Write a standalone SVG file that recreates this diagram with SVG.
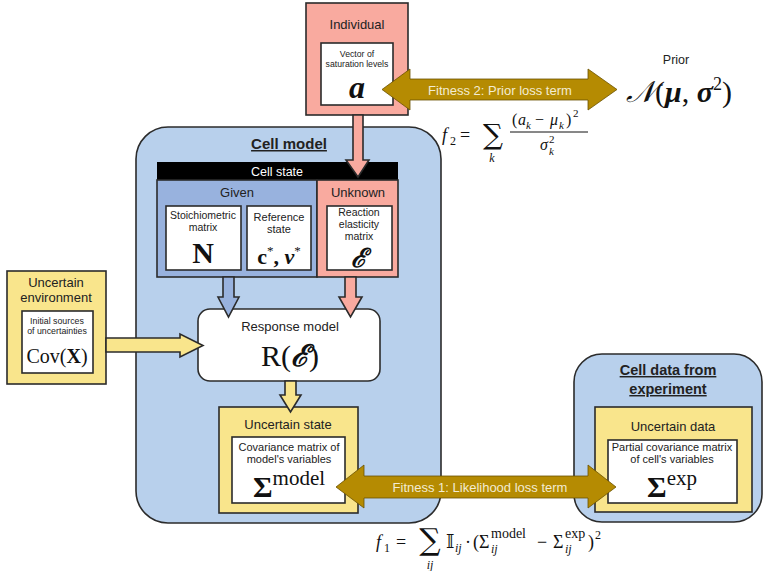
<svg xmlns="http://www.w3.org/2000/svg" width="763" height="571" viewBox="0 0 763 571">
  <defs>
    <style>
      .box { stroke: #2b2b2b; stroke-width: 1.6; }
      .salmon { fill: #f9aa9f; }
      .blue { fill: #b8d0ec; }
      .given { fill: #98b2de; }
      .yellow { fill: #f9e58c; }
      .white { fill: #ffffff; }
      .gold { fill: #b58b02; stroke: #6b5200; stroke-width: 0.8; }
      .t { font-family: "Liberation Sans", Arial, sans-serif; fill: #222; text-anchor: middle; }
      .m { font-family: "Liberation Serif", "DejaVu Serif", serif; fill: #111; text-anchor: middle; }
      .f { font-family: "Liberation Serif", "DejaVu Serif", serif; fill: #111; text-anchor: start; }
      .sum { font-family: "DejaVu Serif", serif; fill: #111; text-anchor: middle; }
      .i { font-style: italic; }
      .h { font-weight: bold; text-decoration: underline; }
      .lbl { font-family: "Liberation Sans", Arial, sans-serif; fill: #f3ecd2; font-size: 13px; text-anchor: middle; }
    </style>
  </defs>

  <!-- Cell model container -->
  <g id="cell-model">
    <rect class="box blue" x="136" y="127" width="305" height="396" rx="32" stroke-width="2.2"/>
    <text class="t h" x="289" y="149" font-size="15">Cell model</text>
  </g>

  <!-- Cell state block -->
  <g id="cell-state">
    <rect x="157" y="162" width="241" height="18" fill="#000"/>
    <text x="277" y="176" font-size="12.5" class="t" style="fill:#fff">Cell state</text>
    <rect class="box given" x="157" y="180" width="160" height="97" stroke-width="1.2"/>
    <rect class="box salmon" x="317" y="180" width="81" height="97" stroke-width="1.2"/>
    <text class="t" x="237" y="197" font-size="13">Given</text>
    <text class="t" x="358" y="197" font-size="13">Unknown</text>
  </g>

  <g id="stoichiometric">
    <rect class="box white" x="166" y="206" width="75" height="64" stroke-width="1.2"/>
    <text class="t" x="203" y="219" font-size="10.5">Stoichiometric</text>
    <text class="t" x="203" y="231" font-size="10.5">matrix</text>
    <text class="m" x="203" y="263" font-size="30" font-weight="bold">N</text>
  </g>

  <g id="reference-state">
    <rect class="box white" x="247" y="206" width="64" height="64" stroke-width="1.2"/>
    <text class="t" x="279" y="221" font-size="11">Reference</text>
    <text class="t" x="279" y="233" font-size="11">state</text>
    <text class="m" x="279" y="264" font-size="22" font-weight="bold">c<tspan font-size="13" dy="-9" font-weight="normal">*</tspan><tspan dy="9">, </tspan><tspan font-style="italic">v</tspan><tspan font-size="13" dy="-9" font-weight="normal">*</tspan></text>
  </g>

  <g id="elasticity">
    <rect class="box white" x="327" y="206" width="65" height="64" stroke-width="1.2"/>
    <text class="t" x="359" y="216" font-size="10.5">Reaction</text>
    <text class="t" x="359" y="228" font-size="10.5">elasticity</text>
    <text class="t" x="359" y="240" font-size="10.5">matrix</text>
    <text class="m" x="359" y="267" font-size="26" font-style="italic" font-weight="bold">ℰ</text>
  </g>

  <!-- Individual -->
  <g id="individual">
    <rect class="box salmon" x="306" y="3" width="102" height="112" stroke-width="1.4"/>
    <text class="t" x="357" y="29" font-size="13">Individual</text>
    <rect class="box white" x="321" y="43" width="72" height="62" stroke-width="1.2"/>
    <text class="t" x="357" y="57" font-size="8.7">Vector of</text>
    <text class="t" x="357" y="67" font-size="8.7">saturation levels</text>
    <text class="m" x="357" y="98" font-size="32" font-weight="bold" font-style="italic">a</text>
  </g>

  <!-- Prior -->
  <g id="prior">
    <text class="t" x="676" y="64" font-size="12.5">Prior</text>
    <text class="m" x="679" y="102" font-size="30"><tspan font-style="italic">𝒩</tspan>(<tspan font-weight="bold" font-style="italic">μ</tspan>, <tspan font-weight="bold" font-style="italic">σ</tspan><tspan font-size="18" dy="-12">2</tspan><tspan dy="12">)</tspan></text>
  </g>

  <!-- Prior loss formula -->
  <g id="f2">
    <text class="f i" x="442" y="141" font-size="18">f</text>
    <text class="f" x="450" y="145" font-size="12">2</text>
    <text class="f" x="460" y="141" font-size="18">=</text>
    <text class="sum" x="493" y="144" font-size="28">∑</text>
    <text class="m i" x="492" y="162" font-size="12">k</text>
    <text class="f" x="512" y="125" font-size="16">(</text>
    <text class="f i" x="518" y="125" font-size="16">a</text>
    <text class="f i" x="526" y="129" font-size="11">k</text>
    <text class="f" x="535" y="125" font-size="16">−</text>
    <text class="f i" x="550" y="125" font-size="16">μ</text>
    <text class="f i" x="559" y="129" font-size="11">k</text>
    <text class="f" x="566" y="125" font-size="16">)</text>
    <text class="f" x="573" y="117" font-size="11">2</text>
    <line x1="510" y1="132" x2="588" y2="132" stroke="#111" stroke-width="1"/>
    <text class="f i" x="540" y="150" font-size="16">σ</text>
    <text class="f" x="549" y="143" font-size="11">2</text>
    <text class="f i" x="549" y="155" font-size="11">k</text>
  </g>

  <!-- Uncertain environment -->
  <g id="environment">
    <rect class="box yellow" x="7" y="271" width="99" height="113" stroke-width="1.4"/>
    <text class="t" x="56" y="287" font-size="13">Uncertain</text>
    <text class="t" x="56" y="302" font-size="13">environment</text>
    <rect class="box white" x="22" y="311" width="71" height="62" stroke-width="1.2"/>
    <text class="t" x="57" y="324" font-size="8.8">Initial sources</text>
    <text class="t" x="57" y="334" font-size="8.8">of uncertainties</text>
    <text class="m" x="57" y="363" font-size="20">Cov(<tspan font-weight="bold">X</tspan>)</text>
  </g>

  <!-- Response model -->
  <g id="response-model">
    <rect class="box white" x="198" y="309" width="182" height="72" rx="12" stroke-width="1.3"/>
    <text class="t" x="290" y="331" font-size="13">Response model</text>
    <text class="m" x="290" y="366" font-size="30">R(<tspan font-style="italic" font-weight="bold">ℰ</tspan>)</text>
  </g>

  <!-- Uncertain state -->
  <g id="uncertain-state">
    <rect class="box yellow" x="219" y="407" width="139" height="106" stroke-width="1.4"/>
    <text class="t" x="288" y="429" font-size="13">Uncertain state</text>
    <rect class="box white" x="232" y="437" width="113" height="66" stroke-width="1.2"/>
    <text class="t" x="289" y="451" font-size="11">Covariance matrix of</text>
    <text class="t" x="289" y="463" font-size="11">model's variables</text>
    <text class="m" x="289" y="497" font-size="30" font-weight="bold">Σ<tspan font-size="21" font-weight="normal" dy="-12">model</tspan></text>
  </g>

  <!-- Cell data from experiment -->
  <g id="cell-data">
    <rect class="box blue" x="574" y="354" width="188" height="168" rx="28" stroke-width="2.2"/>
    <text class="t h" x="668" y="375" font-size="14.5">Cell data from</text>
    <text class="t h" x="668" y="394" font-size="14.5">experiment</text>
    <rect class="box yellow" x="595" y="407" width="157" height="105" stroke-width="1.4"/>
    <text class="t" x="673" y="431" font-size="13">Uncertain data</text>
    <rect class="box white" x="608" y="440" width="129" height="63" stroke-width="1.2"/>
    <text class="t" x="672" y="451" font-size="11">Partial covariance matrix</text>
    <text class="t" x="672" y="463" font-size="11">of cell's variables</text>
    <text class="m" x="672" y="497" font-size="30" font-weight="bold">Σ<tspan font-size="21" font-weight="normal" dy="-12">exp</tspan></text>
  </g>

  <!-- Connectors -->
  <g id="connectors">
    <!-- Individual to unknown elasticities -->
    <polygon class="box salmon" stroke-width="1.2" points="353,115 363,115 363,160 369,160 358,177 346,160 353,160"/>
    <!-- Given to response model -->
    <polygon class="box given" stroke-width="1.2" points="223,277 234,277 234,297 239,297 228.5,317 218,297 223,297"/>
    <!-- Unknown to response model -->
    <polygon class="box salmon" stroke-width="1.2" points="345,277 356,277 356,297 362,297 350.5,317 339,297 345,297"/>
    <!-- Environment to response model -->
    <polygon class="box yellow" stroke-width="1.2" points="106,338 180,338 180,334 203,345.5 180,357 180,352 106,352"/>
    <!-- Response model to uncertain state -->
    <polygon class="box yellow" stroke-width="1.2" points="285,381 296,381 296,395 301,395 290.5,412 280,395 285,395"/>

    <!-- Fitness 2: prior loss term -->
    <polygon class="gold" points="382,89.5 410,69 410,79 588,79 588,69 617,89.5 588,110 588,100 410,100 410,110"/>
    <text class="lbl" x="500" y="95">Fitness 2: Prior loss term</text>

    <!-- Fitness 1: likelihood loss term -->
    <polygon class="gold" points="336,487 364,465 364,476 588,476 588,465 616,487 588,508 588,498 364,498 364,508"/>
    <text class="lbl" x="480" y="492" font-size="13.3">Fitness 1: Likelihood loss term</text>
  </g>

  <!-- Likelihood loss formula -->
  <g id="f1">
    <text class="f i" x="376" y="548" font-size="18">f</text>
    <text class="f" x="384" y="552" font-size="12">1</text>
    <text class="f" x="396" y="548" font-size="18">=</text>
    <text class="sum" x="430" y="550" font-size="30">∑</text>
    <text class="m i" x="430" y="569" font-size="12">ij</text>
    <text class="f" x="446" y="548" font-size="18">𝕀</text>
    <text class="f i" x="455" y="552" font-size="12">ij</text>
    <text class="f" x="465" y="548" font-size="18">·</text>
    <text class="f" x="473" y="548" font-size="18">(Σ</text>
    <text class="f" x="491" y="538" font-size="14">model</text>
    <text class="f i" x="491" y="553" font-size="12">ij</text>
    <text class="f" x="537" y="548" font-size="18">−</text>
    <text class="f" x="553" y="548" font-size="18">Σ</text>
    <text class="f" x="565" y="538" font-size="14">exp</text>
    <text class="f i" x="565" y="553" font-size="12">ij</text>
    <text class="f" x="588" y="548" font-size="18">)</text>
    <text class="f" x="595" y="539" font-size="12">2</text>
  </g>
</svg>
